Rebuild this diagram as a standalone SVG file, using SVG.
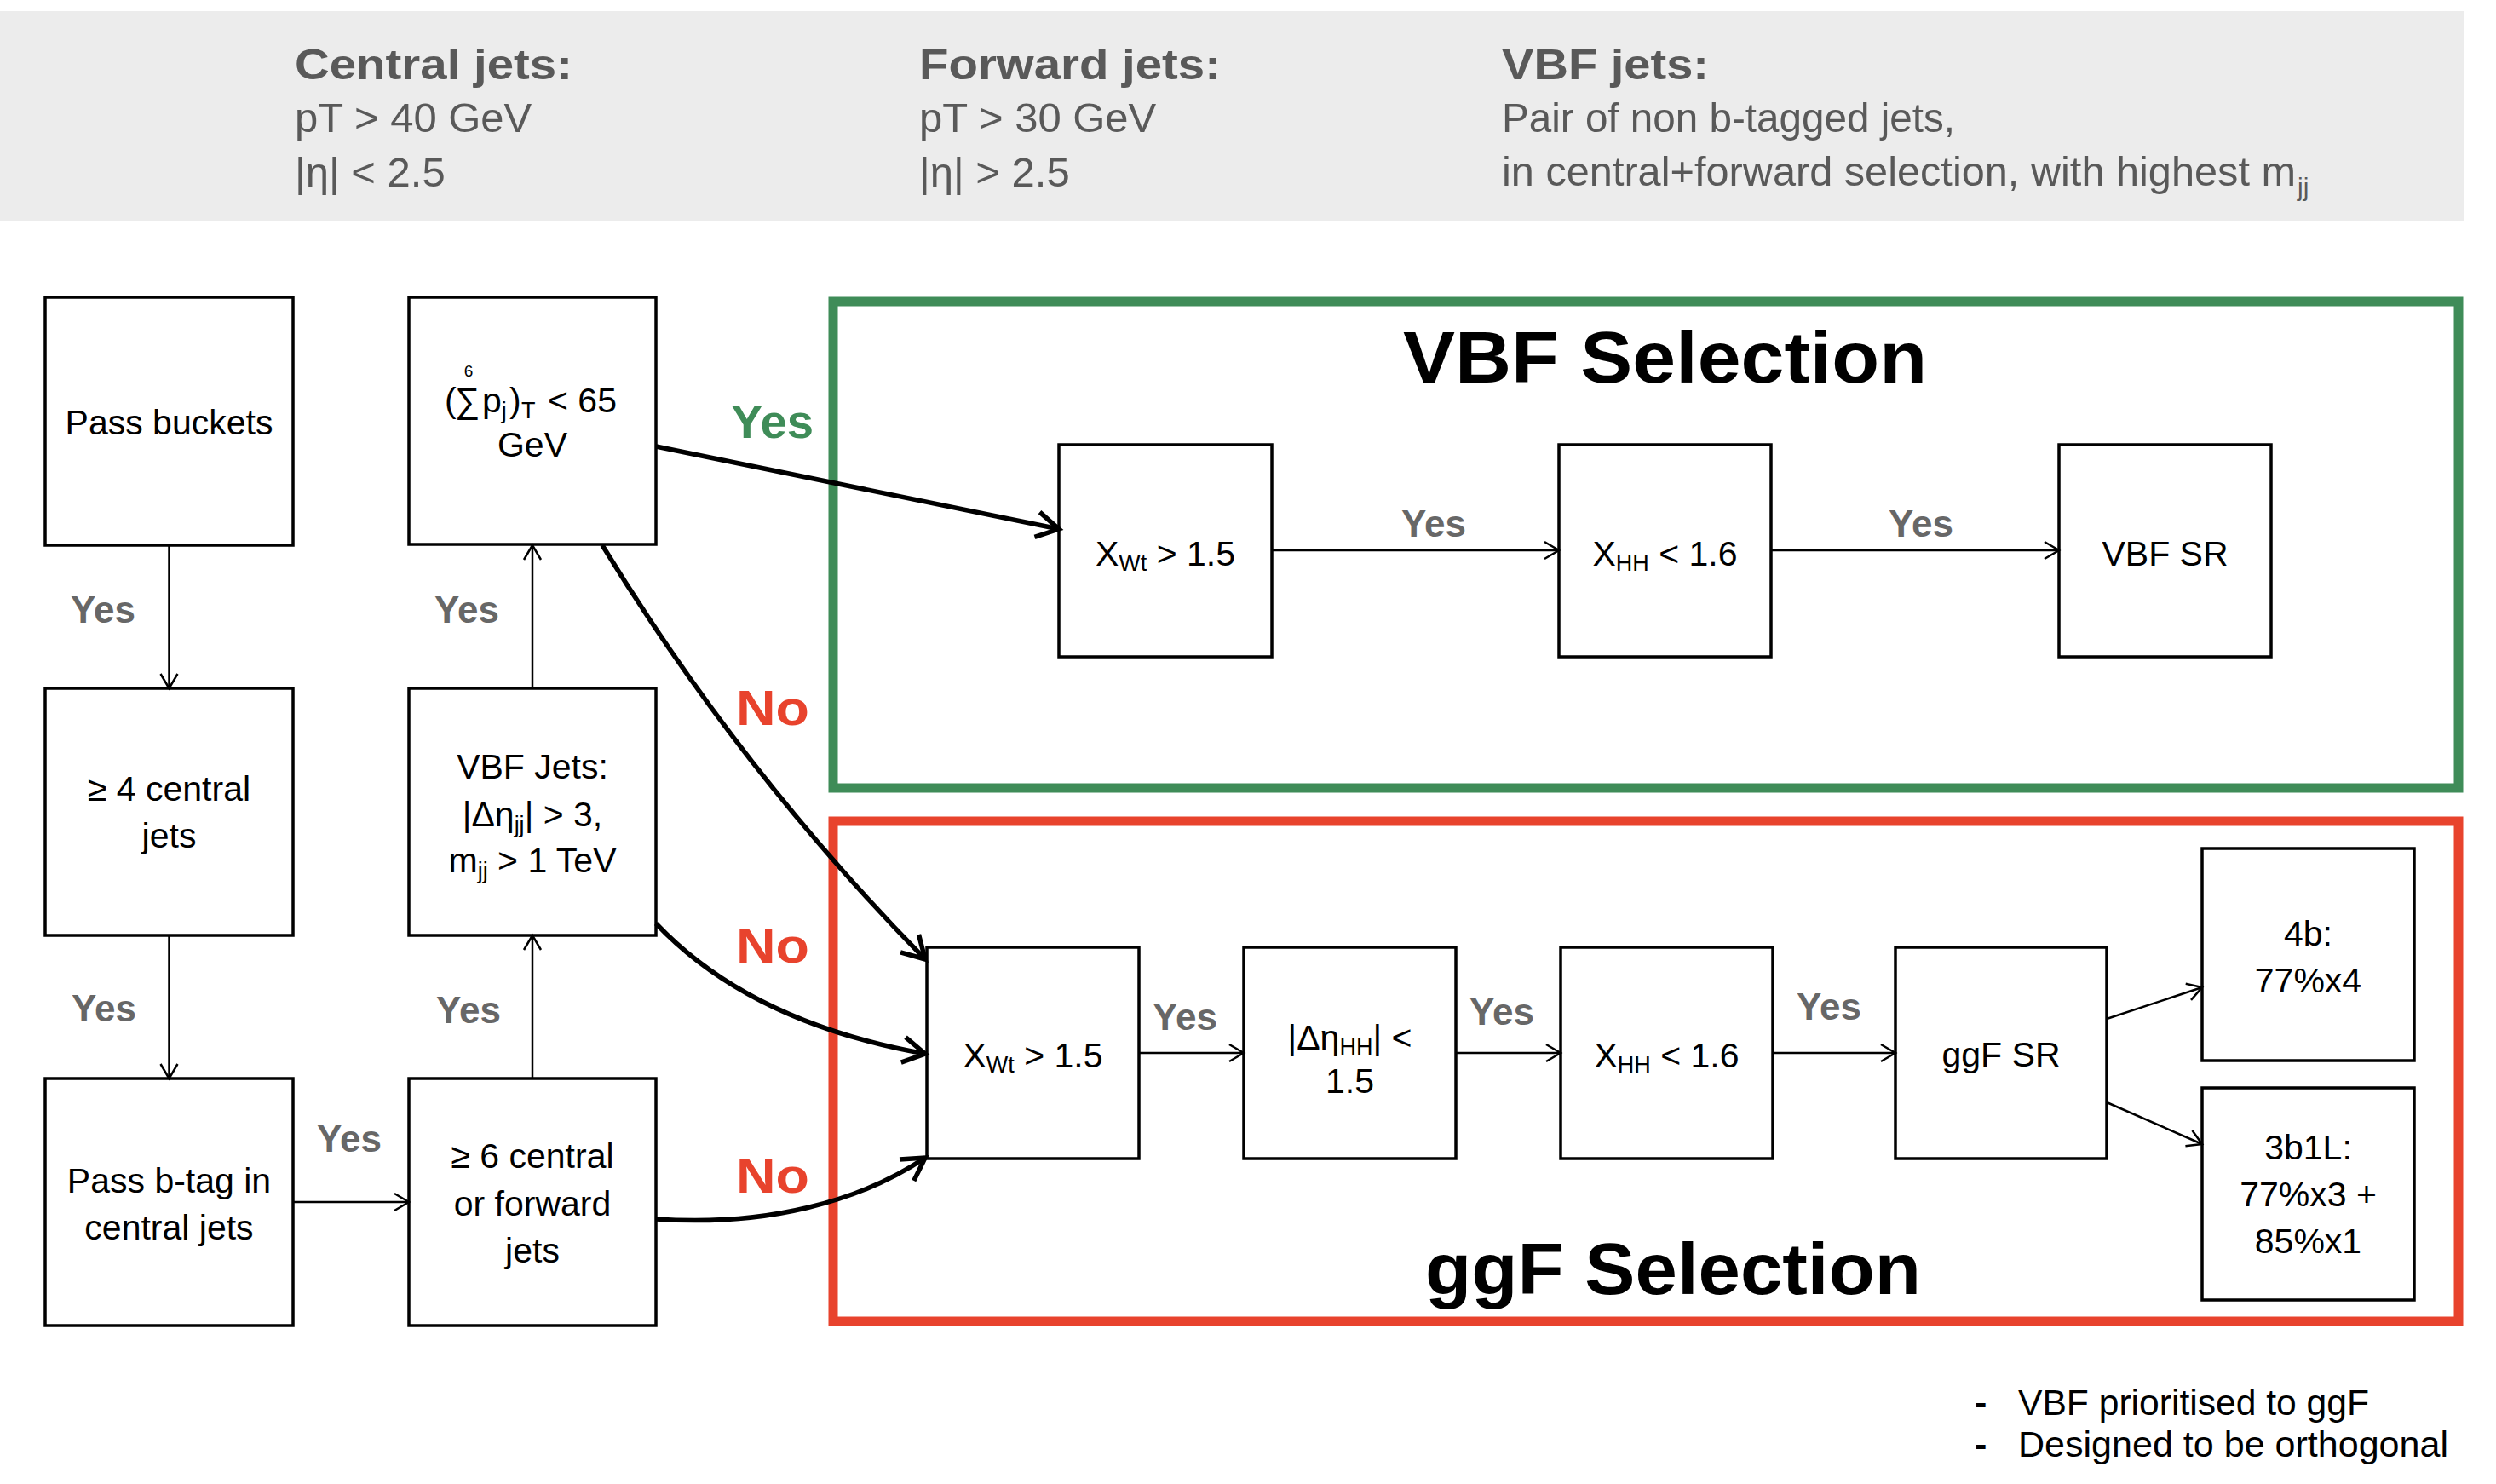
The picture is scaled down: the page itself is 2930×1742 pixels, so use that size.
<svg xmlns="http://www.w3.org/2000/svg" width="2930" height="1742" viewBox="0 0 2930 1742">
<style>
.box{fill:#fff;stroke:#000;stroke-width:3.5}
.t{font-family:"Liberation Sans",Arial,sans-serif;font-size:41px;fill:#000;text-anchor:middle}
.ts{text-anchor:start}
.sub{font-size:27px}
.sup{font-size:19px}
.yes{font-family:"Liberation Sans",Arial,sans-serif;font-weight:bold;font-size:44px;fill:#676767}
.hb{font-family:"Liberation Sans",Arial,sans-serif;font-weight:bold;font-size:50px;fill:#595959}
.hr{font-family:"Liberation Sans",Arial,sans-serif;font-size:49px;fill:#595959}
.hs{font-family:"Liberation Sans",Arial,sans-serif;font-size:30px;fill:#595959}
.title{font-family:"Liberation Sans",Arial,sans-serif;font-weight:bold;font-size:86px;fill:#000}
.no{font-family:"Liberation Sans",Arial,sans-serif;font-weight:bold;font-size:58px;fill:#e8432d}
.yg{font-family:"Liberation Sans",Arial,sans-serif;font-weight:bold;font-size:56px;fill:#3f8c58}
.thin{fill:none;stroke:#000;stroke-width:2.5;marker-end:url(#ah)}
.thick{fill:none;stroke:#000;stroke-width:5.5;marker-end:url(#ahb)}
.foot{font-family:"Liberation Sans",Arial,sans-serif;font-size:43px;fill:#000}
</style>
<defs>
<marker id="ah" markerUnits="userSpaceOnUse" markerWidth="40" markerHeight="40" refX="0" refY="0" orient="auto" overflow="visible">
<path d="M-17,-10 L0,0 L-17,10" fill="none" stroke="#000" stroke-width="2.5"/>
</marker>
<marker id="ahb" markerUnits="userSpaceOnUse" markerWidth="60" markerHeight="60" refX="0" refY="0" orient="auto" overflow="visible">
<path d="M-26,-15 L0,0 L-26,15" fill="none" stroke="#000" stroke-width="5.5"/>
</marker>
</defs>
<rect width="2930" height="1742" fill="#fff"/>
<g id="header">
<rect x="0" y="13" width="2893" height="247" fill="#ececec"/>
<text class="hb" x="346" y="93" textLength="326" lengthAdjust="spacingAndGlyphs">Central jets:</text>
<text class="hr" x="346" y="155">pT &gt; 40 GeV</text>
<text class="hr" x="346" y="219">|η| &lt; 2.5</text>
<text class="hb" x="1079" y="93" textLength="354" lengthAdjust="spacingAndGlyphs">Forward jets:</text>
<text class="hr" x="1079" y="155">pT &gt; 30 GeV</text>
<text class="hr" x="1079" y="219">|η| &gt; 2.5</text>
<text class="hb" x="1763" y="93" textLength="243" lengthAdjust="spacingAndGlyphs">VBF jets:</text>
<text class="hr" x="1763" y="155" textLength="532" lengthAdjust="spacingAndGlyphs">Pair of non b-tagged jets,</text>
<text class="hr" x="1763" y="218" textLength="932" lengthAdjust="spacingAndGlyphs">in central+forward selection, with highest m</text>
<text class="hs" x="2697" y="230">jj</text>
</g>
<g id="vbf-selection">
<rect x="978" y="354" width="1908" height="571" fill="none" stroke="#3f8c58" stroke-width="11"/>
<text class="title" x="1647" y="449" textLength="615" lengthAdjust="spacingAndGlyphs">VBF Selection</text>
</g>
<g id="ggf-selection">
<rect x="978" y="964" width="1908" height="587" fill="none" stroke="#e8432d" stroke-width="11"/>
<text class="title" x="1673" y="1519" textLength="582" lengthAdjust="spacingAndGlyphs">ggF Selection</text>
</g>
<g id="pass-buckets">
<rect class="box" x="53" y="349" width="291" height="291"/>
<text class="t" x="198.5" y="510">Pass buckets</text>
</g>
<g id="central4">
<rect class="box" x="53" y="808" width="291" height="290"/>
<text class="t" x="198.5" y="940">≥ 4 central</text>
<text class="t" x="198.5" y="995">jets</text>
</g>
<g id="btag">
<rect class="box" x="53" y="1266" width="291" height="290"/>
<text class="t" x="198.5" y="1400">Pass b-tag in</text>
<text class="t" x="198.5" y="1455">central jets</text>
</g>
<g id="jets6">
<rect class="box" x="480" y="1266" width="290" height="290"/>
<text class="t" x="625" y="1371">≥ 6 central</text>
<text class="t" x="625" y="1427">or forward</text>
<text class="t" x="625" y="1482">jets</text>
</g>
<g id="vbfjets">
<rect class="box" x="480" y="808" width="290" height="290"/>
<text class="t" x="625" y="914">VBF Jets:</text>
<text class="t" x="625" y="970">|Δη<tspan class="sub" dy="7">jj</tspan><tspan dy="-7">| &gt; 3,</tspan></text>
<text class="t" x="625" y="1024">m<tspan class="sub" dy="7">jj</tspan><tspan dy="-7"> &gt; 1 TeV</tspan></text>
</g>
<g id="ptsum">
<rect class="box" x="480" y="349" width="290" height="290"/>
<text class="t sup" x="550" y="442">6</text>
<text class="t ts" x="522" y="484">(</text>
<text class="t ts" x="534" y="484">∑</text>
<text class="t ts" x="566" y="484">p<tspan class="sub" dy="7">j</tspan></text>
<text class="t ts" x="598" y="484">)</text>
<text class="t ts sub" x="612" y="491">T</text>
<text class="t ts" x="643" y="484">&lt; 65</text>
<text class="t" x="625" y="536">GeV</text>
</g>
<g id="vbf-xwt">
<rect class="box" x="1243" y="522" width="250" height="249"/>
<text class="t" x="1368" y="664">X<tspan class="sub" dy="6">Wt</tspan><tspan dy="-6"> &gt; 1.5</tspan></text>
</g>
<g id="vbf-xhh">
<rect class="box" x="1830" y="522" width="249" height="249"/>
<text class="t" x="1954.5" y="664">X<tspan class="sub" dy="6">HH</tspan><tspan dy="-6"> &lt; 1.6</tspan></text>
</g>
<g id="vbf-sr">
<rect class="box" x="2417" y="522" width="249" height="249"/>
<text class="t" x="2541.5" y="664">VBF SR</text>
</g>
<g id="ggf-xwt">
<rect class="box" x="1088" y="1112" width="249" height="248"/>
<text class="t" x="1212.5" y="1253">X<tspan class="sub" dy="6">Wt</tspan><tspan dy="-6"> &gt; 1.5</tspan></text>
</g>
<g id="ggf-deta">
<rect class="box" x="1460" y="1112" width="249" height="248"/>
<text class="t" x="1584.5" y="1232">|Δη<tspan class="sub" dy="6">HH</tspan><tspan dy="-6">| &lt;</tspan></text>
<text class="t" x="1584.5" y="1283">1.5</text>
</g>
<g id="ggf-xhh">
<rect class="box" x="1832" y="1112" width="249" height="248"/>
<text class="t" x="1956.5" y="1253">X<tspan class="sub" dy="6">HH</tspan><tspan dy="-6"> &lt; 1.6</tspan></text>
</g>
<g id="ggf-sr">
<rect class="box" x="2225" y="1112" width="248" height="248"/>
<text class="t" x="2349" y="1252">ggF SR</text>
</g>
<g id="sr-4b">
<rect class="box" x="2585" y="996" width="249" height="249"/>
<text class="t" x="2709.5" y="1110">4b:</text>
<text class="t" x="2709.5" y="1165">77%x4</text>
</g>
<g id="sr-3b1l">
<rect class="box" x="2585" y="1277" width="249" height="249"/>
<text class="t" x="2709.5" y="1361">3b1L:</text>
<text class="t" x="2709.5" y="1416">77%x3 +</text>
<text class="t" x="2709.5" y="1471">85%x1</text>
</g>
<g id="connectors">
<path class="thin" d="M198.5,640 V808"/>
<path class="thin" d="M198.5,1098 V1266"/>
<path class="thin" d="M344,1411 H480"/>
<path class="thin" d="M625,1266 V1098"/>
<path class="thin" d="M625,808 V640"/>
<path class="thin" d="M1493,646 H1830"/>
<path class="thin" d="M2079,646 H2417"/>
<path class="thin" d="M1337,1236 H1460"/>
<path class="thin" d="M1709,1236 H1832"/>
<path class="thin" d="M2081,1236 H2225"/>
<path class="thin" d="M2473,1196 L2585,1159"/>
<path class="thin" d="M2473,1294 L2585,1343"/>
<path class="thick" d="M770,524 L1243,621"/>
<path class="thick" d="M707,640 Q869,905 1086,1126"/>
<path class="thick" d="M770,1084 Q880,1200 1086,1237"/>
<path class="thick" d="M770,1431 C900,1440 1010,1410 1086,1359"/>
</g>
<g id="labels">
<text class="yes" x="83" y="731">Yes</text>
<text class="yes" x="510" y="731">Yes</text>
<text class="yes" x="84" y="1199">Yes</text>
<text class="yes" x="512" y="1201">Yes</text>
<text class="yes" x="372" y="1352">Yes</text>
<text class="yes" x="1645" y="630">Yes</text>
<text class="yes" x="2217" y="630">Yes</text>
<text class="yes" x="1353" y="1209">Yes</text>
<text class="yes" x="1725" y="1203">Yes</text>
<text class="yes" x="2109" y="1197">Yes</text>
<text class="yg" x="858" y="514" textLength="97" lengthAdjust="spacingAndGlyphs">Yes</text>
<text class="no" x="864" y="851" textLength="86" lengthAdjust="spacingAndGlyphs">No</text>
<text class="no" x="864" y="1130" textLength="86" lengthAdjust="spacingAndGlyphs">No</text>
<text class="no" x="864" y="1400" textLength="86" lengthAdjust="spacingAndGlyphs">No</text>
</g>
<g id="notes">
<text class="foot" x="2318" y="1661" font-weight="bold">-</text>
<text class="foot" x="2369" y="1661" textLength="412" lengthAdjust="spacingAndGlyphs">VBF prioritised to ggF</text>
<text class="foot" x="2318" y="1710" font-weight="bold">-</text>
<text class="foot" x="2369" y="1710" textLength="505" lengthAdjust="spacingAndGlyphs">Designed to be orthogonal</text>
</g>
</svg>
